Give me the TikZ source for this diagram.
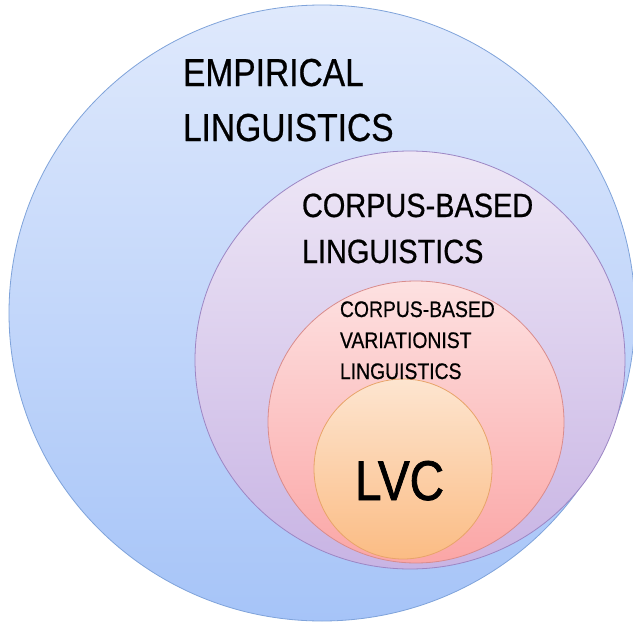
\documentclass[tikz,border=0pt]{standalone}
\usepackage{fontspec}
\newfontfamily\narrowfont{Liberation Sans}[FakeStretch=0.86,FakeBold=0.6]
\newfontfamily\narrowboldish{Liberation Sans}[FakeStretch=0.85,FakeBold=1.4]
\definecolor{bluetop}{HTML}{DFE9FC}
\definecolor{bluebot}{HTML}{A6C4F8}
\definecolor{blueline}{HTML}{7FA3DA}
\definecolor{purtop}{HTML}{EEE7F6}
\definecolor{purbot}{HTML}{C8B4E4}
\definecolor{purline}{HTML}{9C86C4}
\definecolor{redtop}{HTML}{FDE1E1}
\definecolor{redbot}{HTML}{FBA6A6}
\definecolor{redline}{HTML}{D98C8C}
\definecolor{ortop}{HTML}{FDE5D0}
\definecolor{orbot}{HTML}{FBBC84}
\definecolor{orline}{HTML}{E8A46A}
\tikzset{
  lbl/.style={inner sep=0pt, outer sep=0pt, anchor=base west, text=black},
  big/.style={lbl, font=\narrowfont\fontsize{39}{39}\selectfont},
  mid/.style={lbl, font=\narrowfont\fontsize{33.6}{33.6}\selectfont},
  small/.style={lbl, font=\narrowfont\fontsize{22.5}{22.5}\selectfont},
  huge/.style={lbl, font=\narrowboldish\fontsize{56}{56}\selectfont},
  ring/.style={line width=0.8pt}
}
\begin{document}
\begin{tikzpicture}[x=1pt,y=-1pt]
\useasboundingbox (0,0) rectangle (633,624);
\fill[white] (0,0) rectangle (633,624);
% outer
\shade[top color=bluetop, bottom color=bluebot] (322,313) ellipse [x radius=313, y radius=308];
\draw[ring, blueline] (322,313) ellipse [x radius=313, y radius=308];
% purple
\shade[top color=purtop, bottom color=purbot] (410,360) ellipse [x radius=215, y radius=209];
\draw[ring, purline] (410,360) ellipse [x radius=215, y radius=209];
% red
\shade[top color=redtop, bottom color=redbot] (416,422) ellipse [x radius=148, y radius=141];
\draw[ring, redline] (416,422) ellipse [x radius=148, y radius=141];
% orange
\shade[top color=ortop, bottom color=orbot] (403,469) ellipse [x radius=89, y radius=90];
\draw[ring, orline] (403,469) ellipse [x radius=89, y radius=90];
% texts
\node[big] (emp1) at (183,86) {EMPIRICAL};
\node[big] (emp2) at (183,141) {LINGUISTICS};
\node[mid] (cb1) at (302,217) {CORPUS-BASED};
\node[mid] (cb2) at (302,263) {LINGUISTICS};
\node[small] (cv1) at (340,317) {CORPUS-BASED};
\node[small] (cv2) at (340,348) {VARIATIONIST};
\node[small] (cv3) at (340,379) {LINGUISTICS};
\node[huge] (lvc) at (355,500) {LVC};
\end{tikzpicture}
\end{document}
